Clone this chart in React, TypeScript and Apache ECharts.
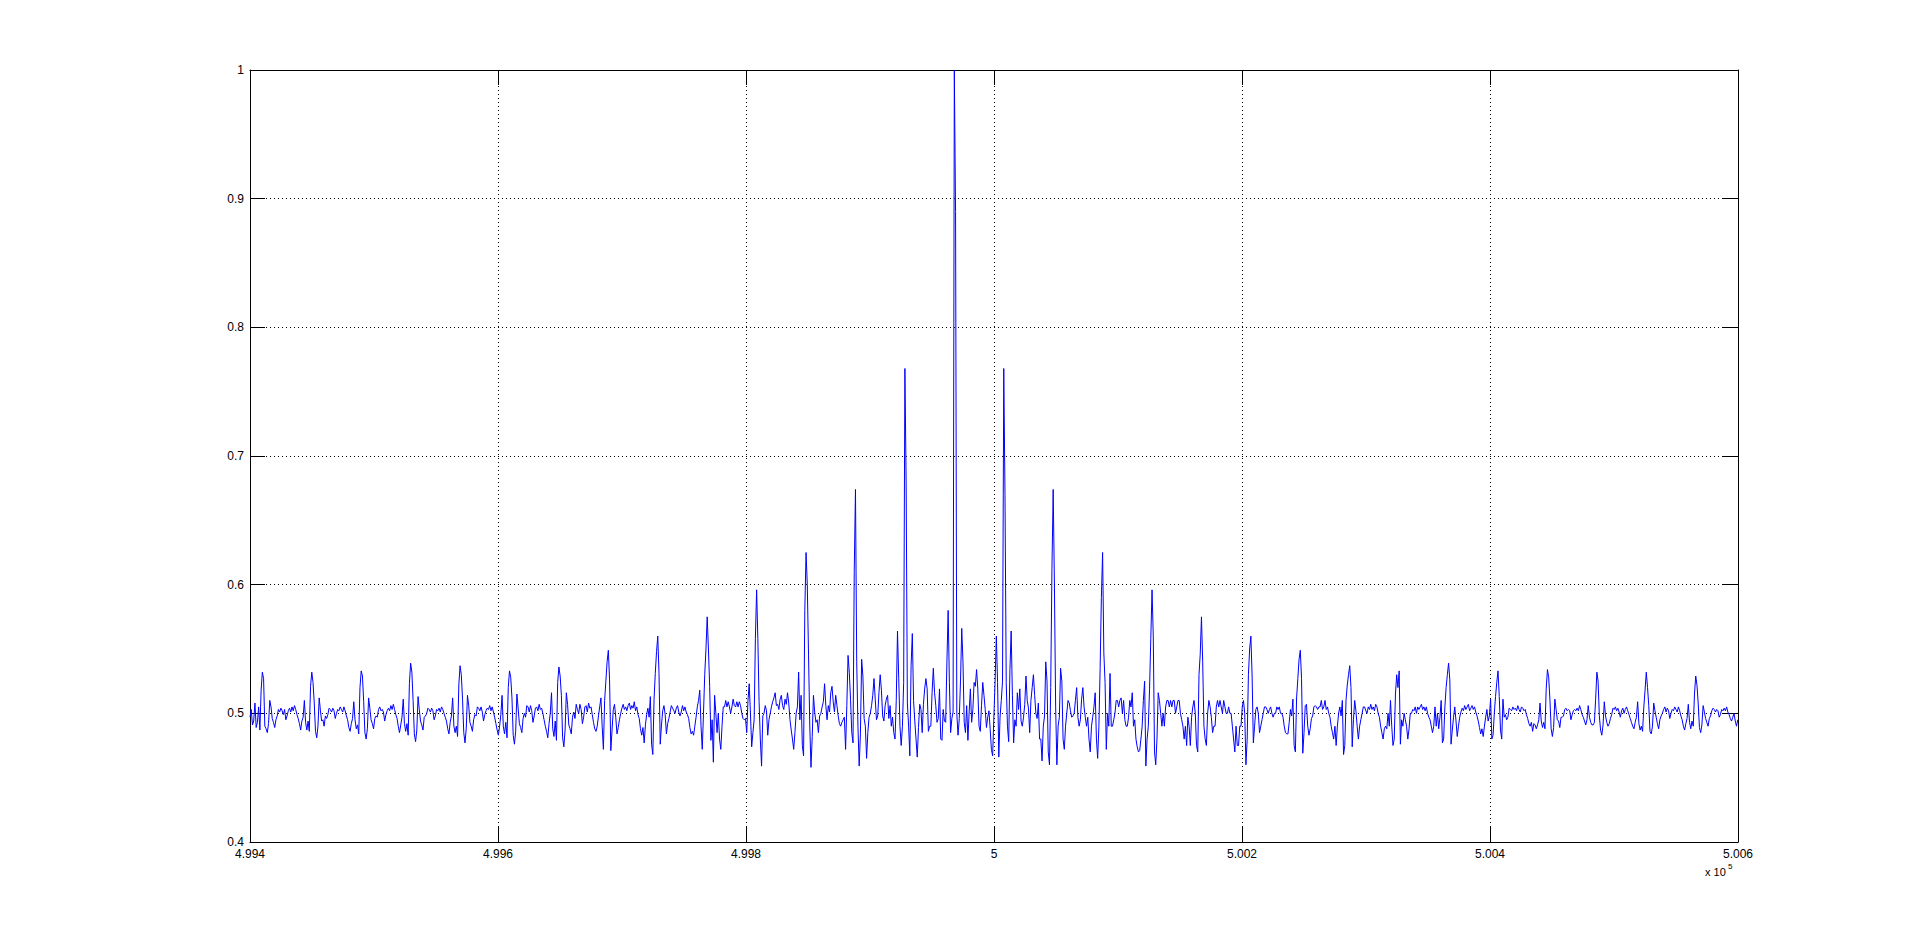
import { useEffect, useRef } from "react";
import * as echarts from "echarts";

// Frequency axis (Hz): first sample and spacing between samples
const xStart = 499400;
const xStep = 0.9965;
const xMin = 499400;
const xMax = 500600;
const xInterval = 200;
const xTickLabels = ["4.994", "4.996", "4.998", "5", "5.002", "5.004", "5.006"];

const yMin = 0.4;
const yMax = 1;
const yInterval = 0.1;
const yTickLabels = ["0.4", "0.5", "0.6", "0.7", "0.8", "0.9", "1"];

// Normalised magnitude, left part of the spectrum (sidelobes k = -14 .. -5)
const magnitudeLeft = [
  0.497, 0.503, 0.491, 0.494, 0.508, 0.489, 0.493, 0.505, 0.487, 0.518,
  0.532, 0.527, 0.49, 0.488, 0.485, 0.492, 0.51, 0.505, 0.496, 0.493,
  0.489, 0.495, 0.498, 0.503, 0.501, 0.504, 0.502, 0.499, 0.503, 0.495,
  0.498, 0.502, 0.504, 0.501, 0.505, 0.502, 0.506, 0.503, 0.499, 0.496,

  0.492, 0.487, 0.494, 0.497, 0.51, 0.493, 0.487, 0.494, 0.486, 0.521,
  0.532, 0.524, 0.508, 0.486, 0.481, 0.49, 0.512, 0.502, 0.494, 0.495,
  0.49, 0.498, 0.496, 0.499, 0.504, 0.503, 0.501, 0.504, 0.502, 0.496,
  0.5, 0.503, 0.502, 0.505, 0.503, 0.501, 0.505, 0.502, 0.498, 0.495,

  0.489, 0.486, 0.492, 0.496, 0.509, 0.495, 0.488, 0.491, 0.484, 0.52,
  0.533, 0.529, 0.509, 0.485, 0.48, 0.488, 0.512, 0.504, 0.495, 0.492,
  0.488, 0.496, 0.498, 0.497, 0.503, 0.505, 0.502, 0.503, 0.501, 0.494,
  0.499, 0.502, 0.504, 0.502, 0.506, 0.503, 0.507, 0.503, 0.499, 0.496,

  0.49, 0.485, 0.491, 0.497, 0.511, 0.492, 0.486, 0.492, 0.483, 0.523,
  0.539, 0.532, 0.51, 0.484, 0.478, 0.487, 0.513, 0.503, 0.494, 0.491,
  0.487, 0.497, 0.498, 0.5, 0.504, 0.503, 0.501, 0.504, 0.502, 0.495,
  0.498, 0.503, 0.502, 0.504, 0.501, 0.505, 0.503, 0.5, 0.497, 0.494,

  0.488, 0.484, 0.493, 0.498, 0.512, 0.49, 0.485, 0.49, 0.482, 0.522,
  0.537, 0.53, 0.511, 0.485, 0.477, 0.488, 0.514, 0.506, 0.493, 0.49,
  0.486, 0.495, 0.499, 0.498, 0.505, 0.504, 0.502, 0.505, 0.501, 0.494,
  0.499, 0.502, 0.504, 0.503, 0.506, 0.502, 0.505, 0.501, 0.497, 0.492,

  0.487, 0.483, 0.49, 0.499, 0.514, 0.49, 0.484, 0.493, 0.481, 0.52,
  0.533, 0.528, 0.512, 0.483, 0.476, 0.486, 0.515, 0.504, 0.492, 0.489,
  0.485, 0.496, 0.5, 0.497, 0.506, 0.505, 0.501, 0.506, 0.502, 0.493,
  0.498, 0.504, 0.505, 0.502, 0.507, 0.503, 0.504, 0.5, 0.495, 0.49,

  0.486, 0.481, 0.492, 0.5, 0.516, 0.488, 0.482, 0.494, 0.479, 0.524,
  0.536, 0.529, 0.514, 0.481, 0.474, 0.487, 0.516, 0.507, 0.491, 0.488,
  0.484, 0.497, 0.501, 0.496, 0.507, 0.503, 0.5, 0.507, 0.503, 0.492,
  0.497, 0.505, 0.506, 0.501, 0.508, 0.504, 0.505, 0.499, 0.493, 0.488,

  0.486, 0.49, 0.498, 0.505, 0.512, 0.49, 0.472, 0.51, 0.525, 0.54,
  0.549, 0.526, 0.471, 0.487, 0.503, 0.507, 0.497, 0.484, 0.489, 0.495,
  0.5, 0.504, 0.507, 0.503, 0.505, 0.502, 0.506, 0.508, 0.503, 0.506,
  0.504, 0.509, 0.502, 0.505, 0.499, 0.496, 0.488, 0.483, 0.489, 0.477,

  0.491, 0.499, 0.504, 0.497, 0.513, 0.476, 0.468, 0.511, 0.531, 0.548,
  0.56, 0.531, 0.476, 0.491, 0.502, 0.506, 0.499, 0.484, 0.492, 0.496,
  0.501, 0.506, 0.504, 0.502, 0.5, 0.504, 0.506, 0.501, 0.498, 0.501,
  0.506, 0.502, 0.505, 0.501, 0.499, 0.496, 0.489, 0.484, 0.486, 0.483,

  0.49, 0.497, 0.505, 0.51, 0.518, 0.49, 0.472, 0.5, 0.53, 0.55,
  0.575, 0.55, 0.521, 0.479, 0.495, 0.462, 0.514, 0.5, 0.485, 0.5,
  0.48, 0.472, 0.49, 0.505, 0.505, 0.51, 0.505, 0.509, 0.505, 0.5,
  0.505, 0.511, 0.506, 0.505, 0.509, 0.505, 0.509, 0.506, 0.5, 0.496,
];

// Central part (k = -4 .. +5), main lobe at k = 0
const magnitudeCenter = [
  0.495, 0.496, 0.485, 0.51, 0.523, 0.5, 0.474, 0.485, 0.495, 0.558,
  0.596, 0.558, 0.509, 0.48, 0.459, 0.498, 0.5, 0.506, 0.502, 0.483,
  0.495, 0.5, 0.505, 0.509, 0.512, 0.516, 0.506, 0.507, 0.503, 0.511,
  0.514, 0.506, 0.503, 0.511, 0.507, 0.516, 0.508, 0.495, 0.487, 0.48,

  0.472, 0.485, 0.5, 0.505, 0.532, 0.495, 0.514, 0.475, 0.467, 0.58,
  0.625, 0.6, 0.546, 0.491, 0.458, 0.482, 0.514, 0.501, 0.493, 0.495,
  0.485, 0.498, 0.5, 0.505, 0.509, 0.523, 0.506, 0.495, 0.506, 0.501,
  0.516, 0.521, 0.509, 0.501, 0.514, 0.506, 0.498, 0.492, 0.49, 0.493,

  0.495, 0.497, 0.472, 0.506, 0.545, 0.532, 0.511, 0.485, 0.477, 0.61,
  0.674, 0.54, 0.49, 0.459, 0.484, 0.542, 0.529, 0.496, 0.49, 0.465,
  0.485, 0.497, 0.5, 0.506, 0.514, 0.527, 0.511, 0.495, 0.498, 0.516,
  0.53, 0.518, 0.498, 0.494, 0.506, 0.511, 0.514, 0.496, 0.506, 0.49,

  0.497, 0.485, 0.48, 0.51, 0.564, 0.527, 0.49, 0.475, 0.49, 0.524,
  0.768, 0.68, 0.508, 0.49, 0.467, 0.537, 0.562, 0.51, 0.494, 0.48,
  0.466, 0.489, 0.507, 0.503, 0.485, 0.507, 0.519, 0.527, 0.519, 0.486,
  0.49, 0.49, 0.516, 0.535, 0.516, 0.506, 0.493, 0.496, 0.519, 0.48,

  0.479, 0.503, 0.494, 0.493, 0.54, 0.58, 0.524, 0.485, 0.496, 0.501,
  1.0, 0.89, 0.5, 0.483, 0.496, 0.525, 0.566, 0.54, 0.493, 0.485,
  0.506, 0.479, 0.501, 0.519, 0.493, 0.503, 0.524, 0.521, 0.534, 0.519,
  0.49, 0.486, 0.506, 0.524, 0.514, 0.503, 0.489, 0.497, 0.502, 0.488,

  0.472, 0.467, 0.497, 0.525, 0.56, 0.524, 0.466, 0.497, 0.51, 0.525,
  0.768, 0.67, 0.524, 0.49, 0.478, 0.534, 0.564, 0.514, 0.477, 0.495,
  0.49, 0.516, 0.503, 0.519, 0.494, 0.49, 0.497, 0.507, 0.529, 0.51,
  0.504, 0.485, 0.51, 0.52, 0.53, 0.514, 0.5, 0.496, 0.508, 0.48,

  0.48, 0.463, 0.49, 0.498, 0.54, 0.525, 0.47, 0.46, 0.52, 0.612,
  0.674, 0.6, 0.505, 0.46, 0.49, 0.497, 0.535, 0.525, 0.48, 0.472,
  0.49, 0.5, 0.51, 0.508, 0.502, 0.497, 0.498, 0.5, 0.51, 0.52,
  0.497, 0.49, 0.495, 0.511, 0.52, 0.505, 0.497, 0.49, 0.497, 0.48,

  0.47, 0.49, 0.497, 0.505, 0.516, 0.48, 0.465, 0.49, 0.535, 0.59,
  0.625, 0.547, 0.524, 0.472, 0.5, 0.49, 0.531, 0.49, 0.49, 0.495,
  0.5, 0.51, 0.51, 0.505, 0.51, 0.512, 0.5, 0.51, 0.495, 0.49,
  0.49, 0.497, 0.51, 0.505, 0.516, 0.49, 0.495, 0.48, 0.474, 0.47,

  0.471, 0.48, 0.49, 0.51, 0.525, 0.459, 0.48, 0.49, 0.519, 0.558,
  0.596, 0.56, 0.47, 0.46, 0.48, 0.516, 0.51, 0.5, 0.49, 0.5,
  0.49, 0.505, 0.51, 0.51, 0.505, 0.51, 0.505, 0.51, 0.51, 0.5,
  0.505, 0.51, 0.51, 0.5, 0.495, 0.49, 0.48, 0.49, 0.475, 0.497,

  0.49, 0.475, 0.497, 0.505, 0.51, 0.5, 0.475, 0.47, 0.53, 0.546,
  0.575, 0.54, 0.49, 0.48, 0.475, 0.5, 0.51, 0.505, 0.497, 0.485,
  0.49, 0.49, 0.505, 0.51, 0.505, 0.51, 0.505, 0.5, 0.51, 0.505,
  0.5, 0.5, 0.505, 0.5, 0.5, 0.49, 0.48, 0.47, 0.49, 0.475,
];

// Right part of the spectrum (k = +6 .. +15) and last samples
const magnitudeRight = [
  0.475, 0.49, 0.49, 0.505, 0.51, 0.5, 0.46, 0.48, 0.53, 0.55,
  0.56, 0.529, 0.477, 0.49, 0.503, 0.505, 0.5, 0.485, 0.49, 0.495,
  0.5, 0.505, 0.505, 0.503, 0.5, 0.503, 0.505, 0.5, 0.497, 0.5,
  0.5, 0.505, 0.503, 0.505, 0.5, 0.5, 0.497, 0.49, 0.485, 0.484,

  0.484, 0.493, 0.503, 0.498, 0.511, 0.475, 0.47, 0.512, 0.527, 0.542,
  0.549, 0.527, 0.469, 0.485, 0.506, 0.507, 0.49, 0.483, 0.488, 0.496,
  0.498, 0.505, 0.506, 0.505, 0.503, 0.505, 0.505, 0.51, 0.503, 0.505,
  0.51, 0.503, 0.505, 0.5, 0.497, 0.49, 0.485, 0.48, 0.49, 0.475,

  0.49, 0.5, 0.505, 0.498, 0.51, 0.468, 0.475, 0.51, 0.522, 0.53,
  0.537, 0.52, 0.474, 0.495, 0.51, 0.502, 0.49, 0.48, 0.49, 0.495,
  0.5, 0.505, 0.505, 0.502, 0.5, 0.505, 0.503, 0.507, 0.503, 0.505,
  0.502, 0.507, 0.505, 0.5, 0.497, 0.49, 0.485, 0.48, 0.488, 0.49,

  0.488, 0.5, 0.49, 0.51, 0.49, 0.475, 0.48, 0.515, 0.53, 0.52,
  0.533, 0.476, 0.495, 0.49, 0.5, 0.495, 0.49, 0.48, 0.488, 0.5,
  0.5, 0.503, 0.502, 0.505, 0.5, 0.505, 0.503, 0.505, 0.507, 0.503,
  0.505, 0.502, 0.505, 0.5, 0.497, 0.495, 0.49, 0.485, 0.49, 0.505,

  0.49, 0.5, 0.488, 0.497, 0.51, 0.477, 0.48, 0.505, 0.52, 0.53,
  0.539, 0.526, 0.476, 0.487, 0.497, 0.505, 0.494, 0.482, 0.49, 0.497,
  0.501, 0.504, 0.502, 0.506, 0.503, 0.505, 0.507, 0.502, 0.504, 0.506,
  0.503, 0.505, 0.501, 0.498, 0.494, 0.489, 0.484, 0.488, 0.482, 0.49,

  0.497, 0.503, 0.494, 0.498, 0.511, 0.48, 0.483, 0.5, 0.513, 0.524,
  0.533, 0.513, 0.487, 0.48, 0.511, 0.497, 0.499, 0.495, 0.497, 0.504,
  0.503, 0.502, 0.505, 0.503, 0.504, 0.502, 0.506, 0.503, 0.501, 0.505,
  0.504, 0.502, 0.503, 0.499, 0.496, 0.492, 0.49, 0.493, 0.486, 0.492,

  0.491, 0.488, 0.491, 0.495, 0.508, 0.494, 0.489, 0.493, 0.488, 0.519,
  0.534, 0.528, 0.511, 0.488, 0.482, 0.489, 0.511, 0.503, 0.495, 0.494,
  0.489, 0.497, 0.497, 0.498, 0.503, 0.504, 0.502, 0.503, 0.502, 0.495,
  0.499, 0.502, 0.503, 0.502, 0.504, 0.502, 0.506, 0.503, 0.499, 0.497,

  0.494, 0.491, 0.495, 0.506, 0.497, 0.493, 0.491, 0.491, 0.493, 0.511,
  0.532, 0.525, 0.498, 0.487, 0.483, 0.491, 0.509, 0.498, 0.493, 0.49,
  0.492, 0.496, 0.499, 0.504, 0.503, 0.505, 0.502, 0.504, 0.501, 0.497,
  0.502, 0.504, 0.5, 0.503, 0.505, 0.502, 0.499, 0.496, 0.493, 0.49,

  0.488, 0.493, 0.497, 0.509, 0.492, 0.487, 0.49, 0.486, 0.505, 0.518,
  0.532, 0.52, 0.506, 0.486, 0.484, 0.49, 0.508, 0.502, 0.497, 0.492,
  0.488, 0.495, 0.498, 0.5, 0.503, 0.505, 0.501, 0.504, 0.502, 0.496,
  0.5, 0.503, 0.502, 0.505, 0.503, 0.501, 0.505, 0.502, 0.498, 0.495,

  0.49, 0.487, 0.492, 0.496, 0.507, 0.493, 0.488, 0.494, 0.49, 0.515,
  0.529, 0.522, 0.508, 0.489, 0.485, 0.491, 0.506, 0.501, 0.496, 0.493,
  0.49, 0.496, 0.498, 0.502, 0.504, 0.503, 0.501, 0.503, 0.502, 0.497,
  0.499, 0.503, 0.502, 0.504, 0.502, 0.505, 0.501, 0.499, 0.496, 0.494,

  0.497, 0.5, 0.494, 0.49, 0.495,
];

const FONT = "'Liberation Sans', Arial, Helvetica, sans-serif";

export default function App() {
  const ref = useRef<HTMLDivElement>(null);

  useEffect(() => {
    if (!ref.current) return;
    const chart = echarts.init(ref.current, null, { renderer: "svg" });
    const magnitude = [...magnitudeLeft, ...magnitudeCenter, ...magnitudeRight];
    const data = magnitude.map((v, i) => [xStart + i * xStep, v]);

    const boxLine = { show: true, onZero: false, lineStyle: { color: "#000", width: 1 } };
    const innerTick = { show: true, inside: true, length: 15, lineStyle: { color: "#000", width: 1 } };
    const gridDots = { show: true, lineStyle: { color: "#000", width: 1, type: [1, 3] as number[] } };

    chart.setOption({
      animation: false,
      backgroundColor: "#ffffff",
      grid: { left: 250, top: 70, width: 1488, height: 772, containLabel: false },
      xAxis: [
        {
          type: "value",
          position: "bottom",
          min: xMin,
          max: xMax,
          interval: xInterval,
          axisLine: boxLine,
          axisTick: innerTick,
          splitLine: gridDots,
          axisLabel: {
            margin: 6,
            color: "#000",
            fontSize: 12,
            fontFamily: FONT,
            formatter: (v: number) => xTickLabels[Math.round((v - xMin) / xInterval)] ?? "",
          },
        },
        {
          type: "value",
          position: "top",
          min: xMin,
          max: xMax,
          interval: xInterval,
          axisLine: boxLine,
          axisTick: innerTick,
          splitLine: { show: false },
          axisLabel: { show: false },
        },
      ],
      yAxis: [
        {
          type: "value",
          position: "left",
          min: yMin,
          max: yMax,
          interval: yInterval,
          axisLine: boxLine,
          axisTick: innerTick,
          splitLine: gridDots,
          axisLabel: {
            margin: 6,
            color: "#000",
            fontSize: 12,
            fontFamily: FONT,
            formatter: (v: number) => yTickLabels[Math.round((v - yMin) / yInterval)] ?? "",
          },
        },
        {
          type: "value",
          position: "right",
          min: yMin,
          max: yMax,
          interval: yInterval,
          axisLine: boxLine,
          axisTick: innerTick,
          splitLine: { show: false },
          axisLabel: { show: false },
        },
      ],
      series: [
        {
          type: "line",
          xAxisIndex: 0,
          yAxisIndex: 0,
          data,
          showSymbol: false,
          symbol: "none",
          silent: true,
          lineStyle: { color: "#0000ff", width: 1 },
          emphasis: { disabled: true },
        },
      ],
      graphic: [
        {
          type: "text",
          x: 1705,
          y: 872,
          style: {
            text: "x 10",
            fill: "#000",
            font: `11px ${FONT}`,
            textAlign: "left",
            textVerticalAlign: "middle",
            align: "left",
            verticalAlign: "middle",
          },
        },
        {
          type: "text",
          x: 1728,
          y: 866,
          style: {
            text: "5",
            fill: "#000",
            font: `8px ${FONT}`,
            textAlign: "left",
            textVerticalAlign: "middle",
            align: "left",
            verticalAlign: "middle",
          },
        },
      ],
    });

    return () => chart.dispose();
  }, []);

  return (
    <div
      ref={ref}
      style={{ position: "fixed", left: 0, top: 0, width: 1921, height: 947, background: "#fff" }}
    />
  );
}
